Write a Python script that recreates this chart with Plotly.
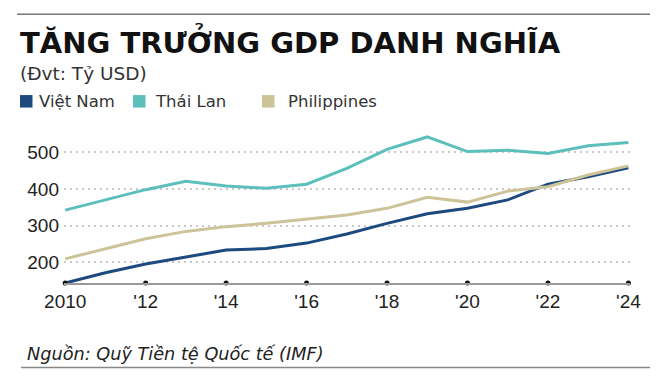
import plotly.graph_objects as go

years = list(range(2010, 2025))
vietnam = [143, 171, 195, 214, 233, 237, 252, 277, 306, 332, 347, 370, 413, 433, 458]
thailand = [342, 370, 398, 421, 408, 402, 413, 456, 508, 542, 502, 506, 497, 518, 527]
philippines = [209, 236, 264, 284, 297, 306, 318, 329, 347, 377, 364, 394, 406, 438, 463]

series_names = ["Việt Nam", "Thái Lan", "Philippines"]
series_colors = ["#1c4a7e", "#5cbfbc", "#cdc398"]

x_tickvals = [2010, 2012, 2014, 2016, 2018, 2020, 2022, 2024]
x_ticktext = ["2010", "'12", "'14", "'16", "'18", "'20", "'22", "'24"]
y_tickvals = [200, 300, 400, 500]
y_min, y_max = 143, 561

title = "TĂNG TRƯỞNG GDP DANH NGHĨA"
subtitle = "(Đvt: Tỷ USD)"
source = "Nguồn: Quỹ Tiền tệ Quốc tế (IMF)"

# page has an 8px body margin; figure is sized so it fills the 658x378 window
OFF = 8
W, H = 658 - OFF, 378 - OFF
# plot area in window pixels
PL, PR, PT, PB = 64, 630, 130, 283.3
L, R, T, B = PL - OFF, (658 - PR), PT - OFF, (378 - PB)
pw, ph = PR - PL, PB - PT


def px(x):
    return (x - PL) / pw


def py(y):
    return (PB - y) / ph


fig = go.Figure()
for name, vals, col in zip(series_names, [vietnam, thailand, philippines], series_colors):
    fig.add_trace(go.Scatter(x=years, y=vals, mode="lines", name=name,
                             line=dict(color=col, width=3), showlegend=False,
                             hoverinfo="skip"))

# tick dots on the x axis baseline
fig.add_trace(go.Scatter(x=x_tickvals, y=[y_min] * len(x_tickvals), mode="markers",
                         marker=dict(color="#111", size=5), cliponaxis=False,
                         showlegend=False, hoverinfo="skip"))


def ann(text, x, y, family, size, color, xanchor="left"):
    return dict(text=text, x=px(x), y=py(y), xref="paper", yref="paper",
                xanchor=xanchor, yanchor="middle",
                font=dict(family=family, size=size, color=color), showarrow=False)


annotations = [
    ann("<b>" + title + "</b>", 18, 41, "DejaVu Sans", 29, "#111"),
    ann(subtitle, 18, 73, "DejaVu Sans", 18.5, "#333"),
    ann("<i>" + source + "</i>", 25, 354, "DejaVu Sans", 17.7, "#222"),
]
shapes = [
    dict(type="line", xref="paper", yref="paper", x0=px(17), x1=px(660), y0=py(14), y1=py(14),
         line=dict(color="#777", width=1.5)),
    dict(type="line", xref="paper", yref="paper", x0=px(21), x1=px(660), y0=py(368), y1=py(368),
         line=dict(color="#888", width=1.5)),
]
sq_x = [20, 133, 262]
txt_x = [37, 153, 286]
for name, col, sx, tx in zip(series_names, series_colors, sq_x, txt_x):
    shapes.append(dict(type="rect", xref="paper", yref="paper", x0=px(sx), x1=px(sx + 12.5),
                       y0=py(107.5), y1=py(95), fillcolor=col, line=dict(width=0)))
    annotations.append(ann(name, tx, 101, "DejaVu Sans", 16.5, "#333"))

fig.update_layout(
    width=W, height=H,
    margin=dict(l=L, r=R, t=T, b=B, pad=0),
    paper_bgcolor="white", plot_bgcolor="white",
    annotations=annotations, shapes=shapes,
    xaxis=dict(range=[2009.97, 2024.04], tickvals=x_tickvals, ticktext=x_ticktext,
               showgrid=False, zeroline=False, showline=True, linecolor="#9a9a9a", linewidth=1.5,
               ticks="", ticklabelstandoff=0,
               tickfont=dict(family="Liberation Sans", size=19, color="#222")),
    yaxis=dict(range=[y_min, y_max], tickvals=y_tickvals, showgrid=True, gridcolor="#c8c8c8",
               griddash="1.5px,4.5px", gridwidth=1.5, zeroline=False, showline=False, ticks="",
               ticklabelstandoff=4,
               tickfont=dict(family="Liberation Sans", size=19, color="#222")),
)

fig.write_html("out.html")
